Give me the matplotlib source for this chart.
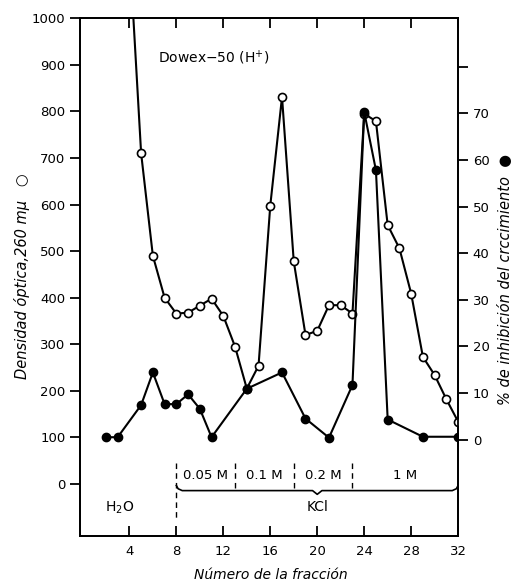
import matplotlib
matplotlib.use("Agg")
import matplotlib.pyplot as plt
import numpy as np

# Open circles: optical density at 260 mμ (left axis)
od_x = [4, 5, 6, 7, 8, 9, 10, 11, 12, 13, 14, 15, 16, 17, 18, 19, 20, 21, 22, 23,
        24, 25, 26, 27, 28, 29, 30, 31, 32]
od_y = [1150, 710, 490, 400, 366, 368, 383, 398, 361, 295, 205, 254, 598, 831, 478,
        320, 329, 384, 384, 366, 795, 779, 556, 506, 409, 273, 234, 182, 134]

# Filled circles: % growth inhibition (right axis)
inh_x = [2, 3, 5, 6, 7, 8, 9, 10, 11, 14, 17, 19, 21, 23, 24, 25, 26, 29, 32]
inh_y = [0.5, 0.5, 7.4, 14.4, 7.6, 7.6, 9.7, 6.6, 0.5, 10.9, 14.4, 4.5, 0.4, 11.7,
         70.3, 57.8, 4.3, 0.6, 0.6]

x_ticks = [4, 8, 12, 16, 20, 24, 28, 32]
left_ticks = list(range(0, 1001, 100))
right_ticks = [0, 10, 20, 30, 40, 50, 60, 70, 80]
right_labels = ["0", "10", "20", "30", "40", "50", "60", "70", ""]

# Eluent segments (KCl concentrations)
seg_bounds = [8, 13, 18, 23, 32]
seg_labels = ["0.05 M", "0.1 M", "0.2 M", "1 M"]

fig = plt.figure(figsize=(5.2, 5.88), dpi=100)
ax = fig.add_axes([0.154, 0.088, 0.727, 0.881])
ax.set_xlim(-0.2, 32)
ax.set_ylim(-112, 1000)

fs = 9.5
ax.plot(od_x, od_y, color="black", lw=1.5, marker="o", ms=5.8, mfc="white",
        mec="black", mew=1.2, zorder=3, clip_on=True)

ax2 = ax.twinx()
ax2.set_ylim(-20.75, 90.4)
ax2.plot(inh_x, inh_y, color="black", lw=1.5, marker="o", ms=6, mfc="black",
         mec="black", zorder=4)

for a in (ax, ax2):
    for s in a.spines.values():
        s.set_linewidth(1.3)

ax.set_xticks(x_ticks)
ax.set_xticklabels([str(v) for v in x_ticks], fontsize=fs)
ax.tick_params(axis="x", direction="in", length=7, width=1.3, top=True, pad=6)
ax.set_yticks(left_ticks)
ax.set_yticklabels([str(v) for v in left_ticks], fontsize=fs)
ax.tick_params(axis="y", direction="out", length=7, width=1.3)
ax2.set_yticks(right_ticks)
ax2.set_yticklabels(right_labels, fontsize=fs)
ax2.tick_params(axis="y", direction="out", length=7, width=1.3)

ax.text(6.4, 915, "Dowex\u221250 (H$^{+}$)", fontsize=10, ha="left", va="center")

# eluent annotation
ax.plot([8, 8], [45, -80], color="black", lw=1, ls=(0, (4, 3)))
for b in seg_bounds[1:-1]:
    ax.plot([b, b], [45, -12], color="black", lw=1, ls=(0, (4, 3)))
for i, lab in enumerate(seg_labels):
    xc = (seg_bounds[i] + seg_bounds[i + 1]) / 2
    ax.text(xc, 18, lab, fontsize=fs, ha="center", va="center")

# brace
bx = [8.0, 8.15, 8.5, 19.6, 20.0, 20.4, 31.5, 31.85, 32.0]
by = [-3, -10, -14, -14, -22, -14, -14, -10, -3]
ax.plot(bx, by, color="black", lw=1.2)
ax.text(20, -50, "KCl", fontsize=10, ha="center", va="center")
ax.text(3.2, -50, "H$_2$O", fontsize=10, ha="center", va="center")

fig.text(0.042, 0.53, "Densidad óptica,260 m\u03bc   \u25cb", rotation=90,
         fontsize=10.5, style="italic", ha="center", va="center")
fig.text(0.972, 0.525, "% de inhibición del crccimiento  \u25cf", rotation=90,
         fontsize=10.5, style="italic", ha="center", va="center")
fig.text(0.52, 0.022, "Número de la fracción", fontsize=10, style="italic",
         ha="center", va="center")

fig.savefig("out.png", dpi=100)
